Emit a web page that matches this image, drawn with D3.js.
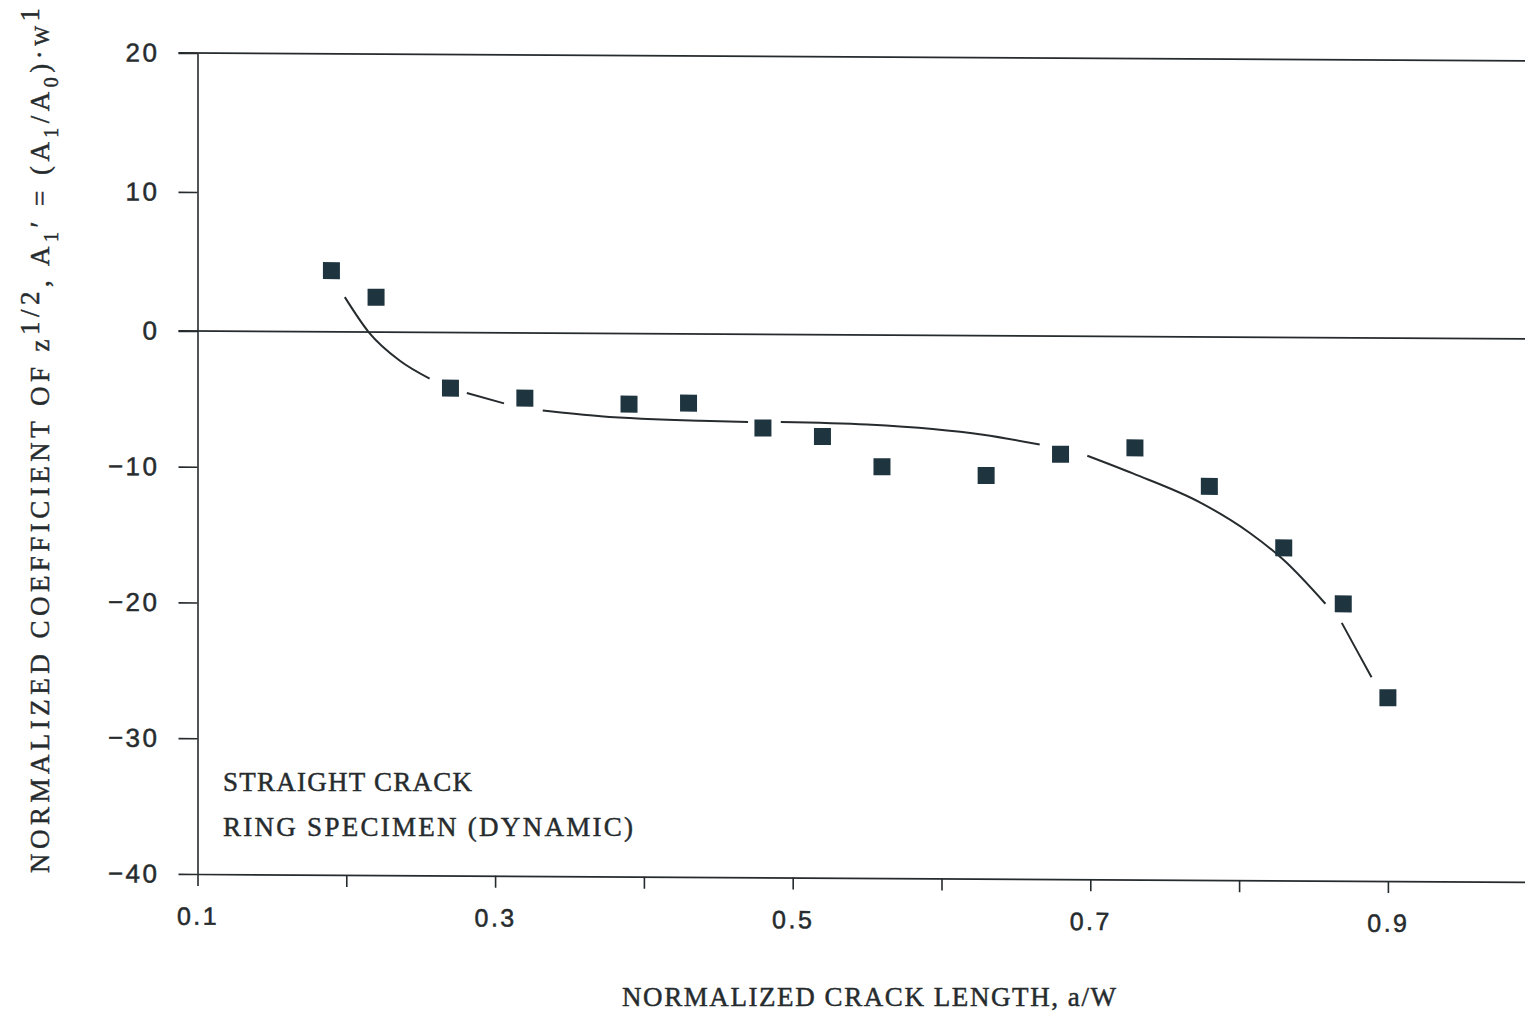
<!DOCTYPE html>
<html lang="en">
<head>
    <meta charset="UTF-8">
    <script src="https://cdn.jsdelivr.net/npm/d3@7/dist/d3.min.js"></script>
    <title>Normalized coefficient vs crack length</title>
    <style>
        body { margin: 0; background: #fff; }
    </style>
</head>
<body>
    <svg width="1525" height="1014"></svg>
    <script>
        // measured points (a/W, A1')
        const crackLength = [0.19, 0.22, 0.27, 0.32, 0.39, 0.43, 0.48, 0.52, 0.56, 0.63, 0.68, 0.73, 0.78, 0.83, 0.87, 0.90];
        const coefficient = [4.4, 2.5, -4.1, -4.8, -5.2, -5.1, -6.9, -7.5, -9.7, -10.3, -8.7, -8.2, -11.0, -15.5, -19.6, -26.5];

        // fitted curve, NaN marks a break in the pen line
        const fitX = [0.199, 0.215, 0.236, 0.256, NaN, 0.281, 0.306, NaN, 0.332, 0.371, 0.438, 0.470, NaN,
                      0.492, 0.550, 0.594, 0.628, 0.666, NaN, 0.698, 0.729, 0.774, 0.807, 0.830, 0.858, NaN,
                      0.869, 0.879, 0.889];
        const fitY = [2.5, 0.0, -2.1, -3.4, NaN, -4.45, -5.2, NaN, -5.7, -6.1, -6.4, -6.46, NaN,
                      -6.45, -6.6, -6.9, -7.3, -8.0, NaN, -8.8, -10.1, -12.2, -14.4, -16.4, -19.6, NaN,
                      -21.0, -23.0, -25.0];

        const xTicks = [0.1, 0.2, 0.3, 0.4, 0.5, 0.6, 0.7, 0.8, 0.9];
        const xTickLabels = ['0.1', '', '0.3', '', '0.5', '', '0.7', '', '0.9'];
        const yTicks = [-40, -30, -20, -10, 0, 10, 20];

        const ink = '#262b2e';
        const svg = d3.select('svg');

        // 比例尺 (the printed y axis is slightly uneven, so a 3-stop scale)
        const x = d3.scaleLinear().domain([0.1, 1.0]).range([197.5, 1536.7]);
        const y = d3.scaleLinear().domain([-40, 0, 20]).range([874, 331, 53]);

        // the scan is a little skewed: lines drop to the right
        const plot = svg.append('g')
            .attr('transform', 'translate(197,0) skewY(0.34) translate(-197,0)');

        // horizontal lines at 20 and 0
        plot.append('g')
            .selectAll('line')
            .data([20, 0])
            .enter()
            .append('line')
            .attr('x1', x(0.1) - 19)
            .attr('x2', x(1.0))
            .attr('y1', d => y(d))
            .attr('y2', d => y(d))
            .attr('stroke', ink)
            .attr('stroke-width', 1.6);

        // y axis
        const yAxis = plot.append('g')
            .attr('transform', `translate(${x(0.1)},0)`)
            .call(d3.axisLeft(y)
                .tickValues(yTicks)
                .tickSize(19)
                .tickSizeOuter(0)
                .tickPadding(19)
                .tickFormat(d => d < 0 ? '\u2212' + Math.abs(d) : d));

        // x axis
        const xAxis = plot.append('g')
            .attr('transform', `translate(0,${y(-40)})`)
            .call(d3.axisBottom(x)
                .tickValues(xTicks)
                .tickSize(12)
                .tickSizeOuter(0)
                .tickPadding(21)
                .tickFormat((d, i) => xTickLabels[i]));

        [yAxis, xAxis].forEach(a => {
            a.selectAll('path, line').attr('stroke', ink).attr('stroke-width', 1.6);
            a.selectAll('text')
                .attr('fill', ink)
                .attr('stroke', ink)
                .attr('stroke-width', 0.5)
                .attr('font-family', 'Liberation Sans, Arial, sans-serif')
                .attr('letter-spacing', 2.5);
        });
        yAxis.selectAll('text').attr('font-size', 26);
        xAxis.selectAll('text').attr('font-size', 25);

        // fitted curve
        const line = d3.line()
            .defined(d => !isNaN(d[1]))
            .x(d => x(d[0]))
            .y(d => y(d[1]))
            .curve(d3.curveMonotoneX);

        plot.append('path')
            .attr('d', line(fitX.map((v, i) => [v, fitY[i]])))
            .attr('fill', 'none')
            .attr('stroke', ink)
            .attr('stroke-width', 2);

        // square markers
        const size = 17;
        plot.append('g')
            .selectAll('rect')
            .data(crackLength)
            .enter()
            .append('rect')
            .attr('x', d => x(d) - size / 2)
            .attr('y', (d, i) => y(coefficient[i]) - size / 2)
            .attr('width', size)
            .attr('height', size)
            .attr('fill', '#1e3540');

        // typewriter-style labels
        const serif = 'Liberation Serif, Times New Roman, serif';

        function label(xPos, yPos, len, txt) {
            svg.append('text')
                .attr('x', xPos).attr('y', yPos)
                .attr('font-family', serif).attr('font-size', 27)
                .attr('fill', ink).attr('stroke', ink).attr('stroke-width', 0.45)
                .attr('textLength', len).attr('lengthAdjust', 'spacing')
                .text(txt);
        }
        label(223, 791, 249, 'STRAIGHT CRACK');
        label(223, 836, 410, 'RING SPECIMEN (DYNAMIC)');
        label(622, 1006, 494, 'NORMALIZED CRACK LENGTH, a/W');

        // rotated y label with super/subscripts
        const yLabelParts = [
            { t: 'NORMALIZED COEFFICIENT OF z', dy: 0 },
            { t: '1/2', dy: -10 },
            { t: ', A', dy: 10 },
            { t: '1', dy: 9, s: 20 },
            { t: '\u2032 = (A', dy: -9 },
            { t: '1', dy: 9, s: 20 },
            { t: '/A', dy: -9 },
            { t: '0', dy: 9, s: 20 },
            { t: ')\u00b7', dy: -9 },
            { t: 'W', dy: 0, s: 21 },
            { t: '1', dy: -10 }
        ];

        const yLabel = svg.append('text')
            .attr('transform', 'translate(49,873) rotate(-90)')
            .attr('font-family', serif)
            .attr('font-size', 27)
            .attr('fill', ink)
            .attr('stroke', ink)
            .attr('stroke-width', 0.45)
            .attr('textLength', 865)
            .attr('lengthAdjust', 'spacing');

        yLabel.selectAll('tspan')
            .data(yLabelParts)
            .enter()
            .append('tspan')
            .attr('dy', d => d.dy)
            .attr('font-size', d => d.s || 27)
            .text(d => d.t);
    </script>
</body>
</html>
